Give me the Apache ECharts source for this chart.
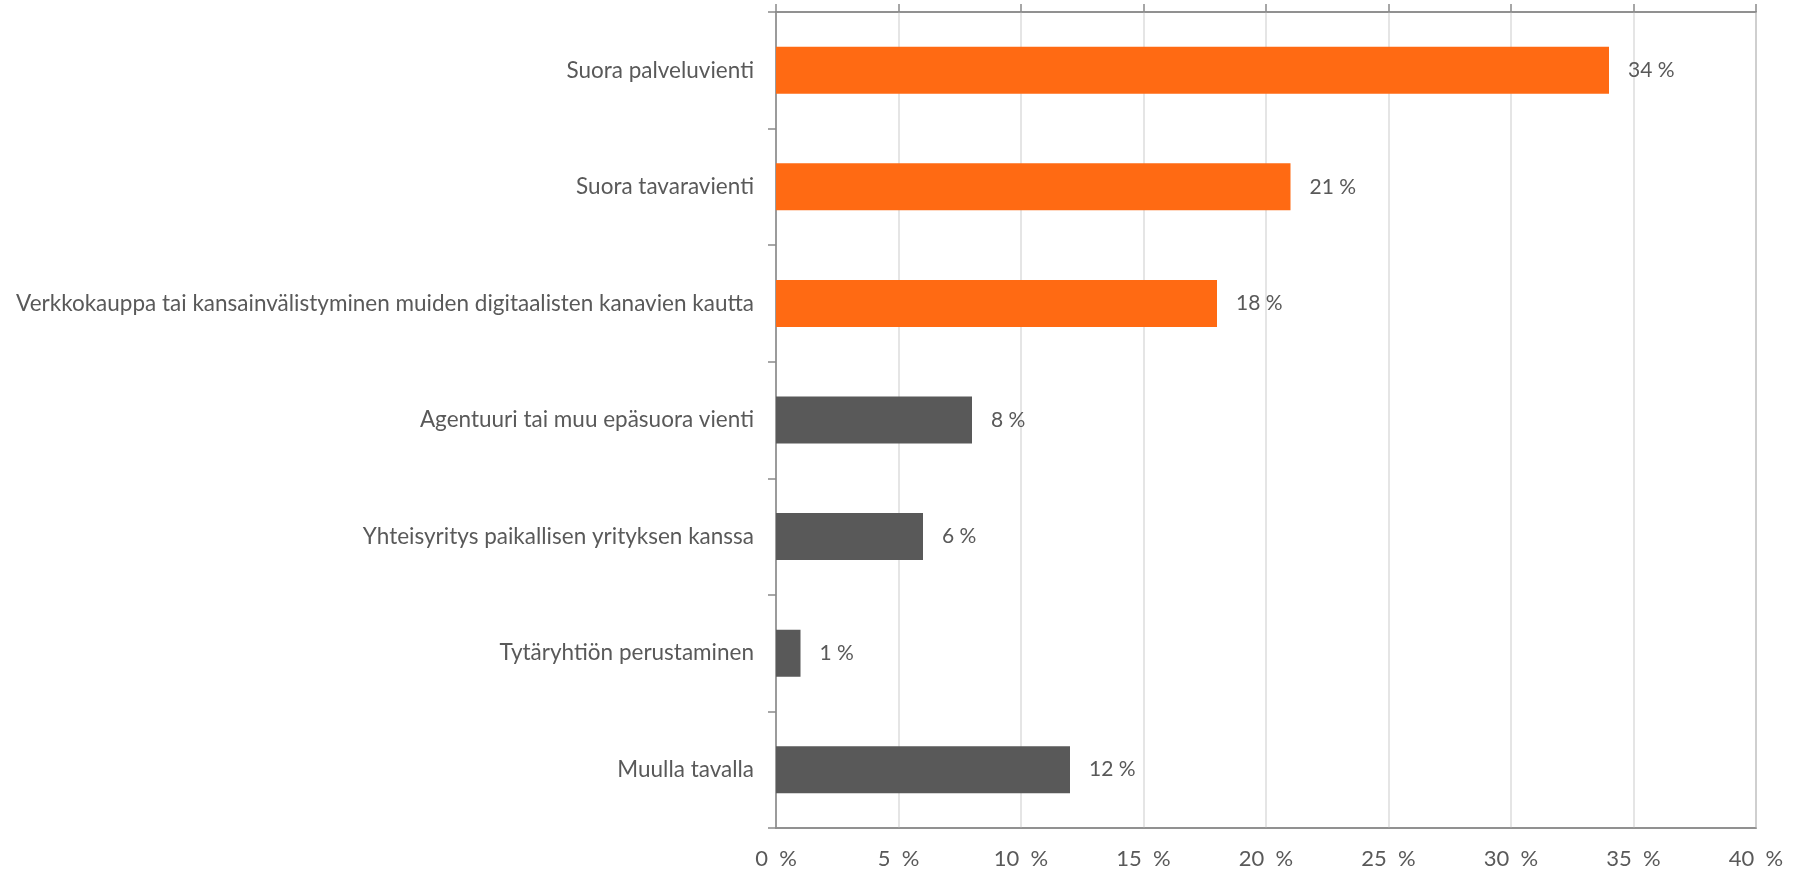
<!DOCTYPE html>
<html>
<head>
<meta charset="utf-8">
<script src="https://cdn.jsdelivr.net/npm/echarts@6/dist/echarts.min.js"></script>
<style>html,body{margin:0;padding:0;background:#fff}#c{width:1794px;height:873px}</style>
</head>
<body>
<div id="c"></div>
<script>
const categories = [
  "Suora palveluvienti",
  "Suora tavaravienti",
  "Verkkokauppa tai kansainvälistyminen muiden digitaalisten kanavien kautta",
  "Agentuuri tai muu epäsuora vienti",
  "Yhteisyritys paikallisen yrityksen kanssa",
  "Tytäryhtiön perustaminen",
  "Muulla tavalla"
];
const values = [34, 21, 18, 8, 6, 1, 12];
const highlighted = [true, true, true, false, false, false, false];
const xTicks = [0, 5, 10, 15, 20, 25, 30, 35, 40];

const ORANGE = '#FF6A13', DARK = '#595959', TEXT = '#595959', AXIS = '#8a8a8a', GRID = '#dcdcdc';
const FONT = 'Lato';

const chart = echarts.init(document.getElementById('c'), null, {renderer: 'canvas'});
chart.setOption({
  backgroundColor: '#fff',
  animation: false,
  grid: {left: 776, right: 38, top: 12, bottom: 45, show: true, borderColor: AXIS, borderWidth: 1.5, backgroundColor: 'transparent'},
  xAxis: [
    {
      type: 'value', position: 'bottom', min: xTicks[0], max: xTicks[xTicks.length - 1], interval: 5,
      axisLine: {show: true, lineStyle: {color: AXIS, width: 1.5}},
      axisTick: {show: false},
      splitLine: {show: true, lineStyle: {color: GRID, width: 1.5}},
      axisLabel: {color: TEXT, fontFamily: FONT, fontSize: 22, margin: 20, formatter: v => v + '  %'}
    },
    {
      type: 'value', position: 'top', min: xTicks[0], max: xTicks[xTicks.length - 1], interval: 5,
      axisLine: {show: true, lineStyle: {color: AXIS, width: 1.5}},
      axisTick: {show: true, inside: false, length: 8, lineStyle: {color: AXIS, width: 1.5}},
      splitLine: {show: false},
      axisLabel: {show: false}
    }
  ],
  yAxis: {
    type: 'category', data: categories, inverse: true,
    axisLine: {show: true, lineStyle: {color: AXIS, width: 1.5}},
    axisTick: {show: true, length: 8, lineStyle: {color: AXIS, width: 1.5}},
    axisLabel: {color: TEXT, fontFamily: FONT, fontSize: 22.5, margin: 22}
  },
  series: [{
    type: 'bar', xAxisIndex: 0,
    data: values.map((v, i) => ({value: v, itemStyle: {color: highlighted[i] ? ORANGE : DARK}})),
    barWidth: 47,
    label: {show: true, position: 'right', distance: 19, color: TEXT, fontFamily: FONT, fontSize: 21, formatter: p => p.value + ' %'}
  }]
});
</script>
</body>
</html>
